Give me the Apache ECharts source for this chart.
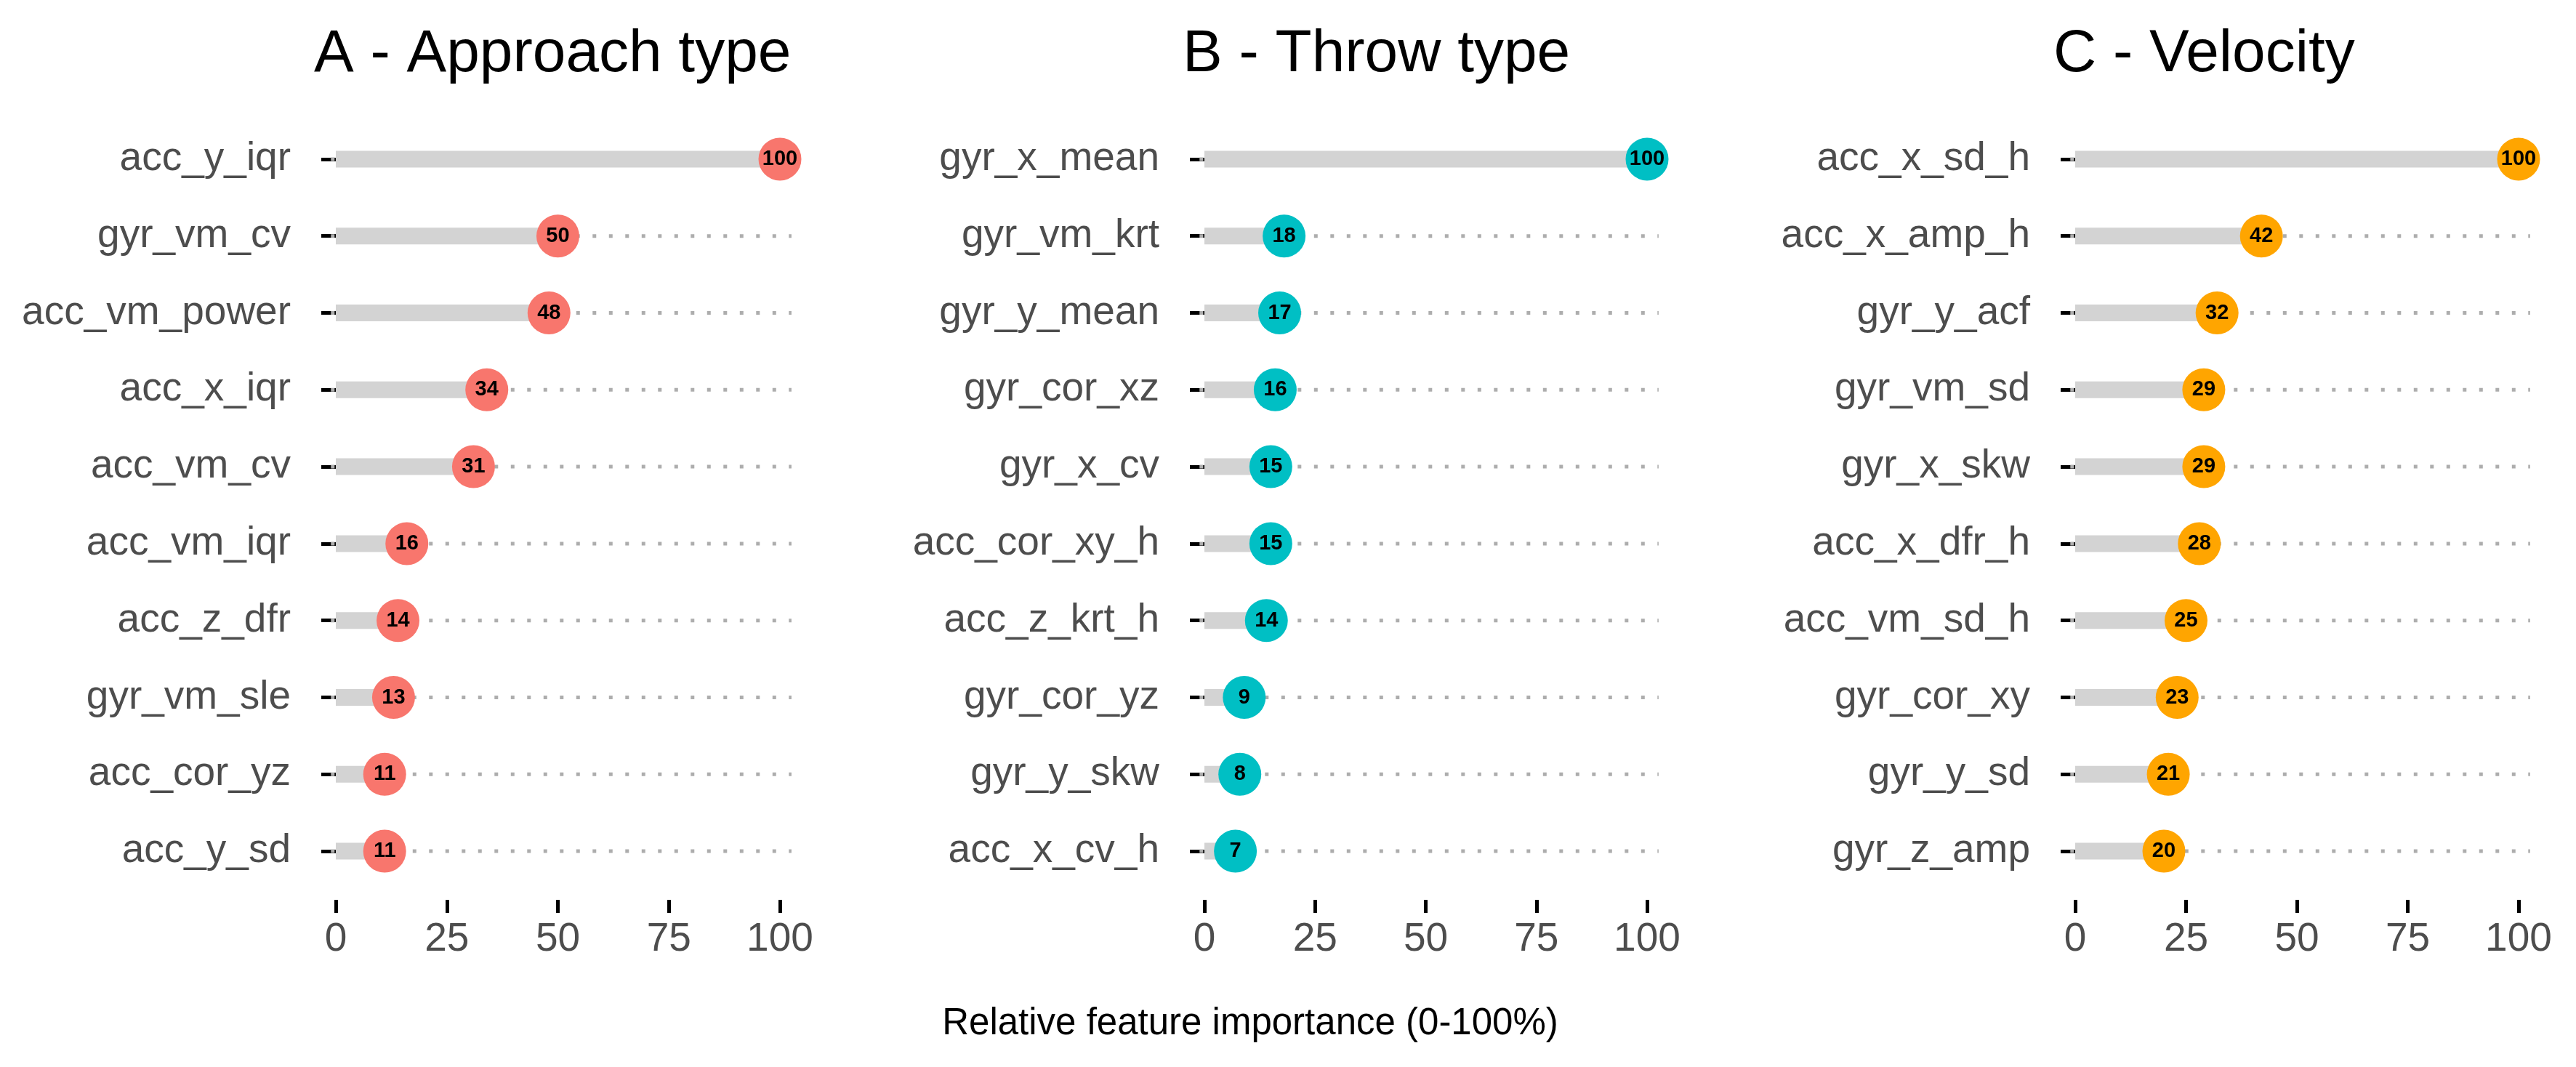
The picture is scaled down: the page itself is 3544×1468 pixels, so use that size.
<!DOCTYPE html>
<html>
<head>
<meta charset="utf-8">
<script src="https://cdn.jsdelivr.net/npm/echarts@6/dist/echarts.min.js"></script>
<style>
  html, body { margin: 0; padding: 0; background: #fff; }
  #chart { width: 3544px; height: 1468px; }
</style>
</head>
<body>
<div id="chart"></div>
<script>
// panel A - approach type
const approachFeatures = ['acc_y_iqr', 'gyr_vm_cv', 'acc_vm_power', 'acc_x_iqr', 'acc_vm_cv',
  'acc_vm_iqr', 'acc_z_dfr', 'gyr_vm_sle', 'acc_cor_yz', 'acc_y_sd']
const approachValues = [100, 50, 48, 34, 31, 16, 14, 13, 11, 11]

// panel B - throw type
const throwFeatures = ['gyr_x_mean', 'gyr_vm_krt', 'gyr_y_mean', 'gyr_cor_xz', 'gyr_x_cv',
  'acc_cor_xy_h', 'acc_z_krt_h', 'gyr_cor_yz', 'gyr_y_skw', 'acc_x_cv_h']
const throwValues = [100, 18, 17, 16, 15, 15, 14, 9, 8, 7]

// panel C - velocity
const velocityFeatures = ['acc_x_sd_h', 'acc_x_amp_h', 'gyr_y_acf', 'gyr_vm_sd', 'gyr_x_skw',
  'acc_x_dfr_h', 'acc_vm_sd_h', 'gyr_cor_xy', 'gyr_y_sd', 'gyr_z_amp']
const velocityValues = [100, 42, 32, 29, 29, 28, 25, 23, 21, 20]

const xTicks = [0, 25, 50, 75, 100]
const panelTitles = ['A - Approach type', 'B - Throw type', 'C - Velocity']
const xName = 'Relative feature importance (0-100%)'

const panels = [
  { title: panelTitles[0], cats: approachFeatures, vals: approachValues, color: '#F8766D', x0: 462, w: 611 },
  { title: panelTitles[1], cats: throwFeatures, vals: throwValues, color: '#00BFC4', x0: 1657, w: 609 },
  { title: panelTitles[2], cats: velocityFeatures, vals: velocityValues, color: '#FFA500', x0: 2855, w: 610 }
]

const FONT = 'Liberation Sans, Arial, sans-serif'
const DOT_FROM = -1.1
const DOT_TO = 102.6

let chart = echarts.init(document.getElementById('chart'), null, { renderer: 'canvas' })

let grids = [], xAxes = [], yAxes = [], series = [], graphics = []

panels.forEach((p, k) => {
  grids.push({ left: p.x0, width: p.w, top: 166, height: 1058, containLabel: false })
  xAxes.push({
    gridIndex: k, type: 'value', min: xTicks[0], max: xTicks[xTicks.length - 1], interval: 25,
    offset: 14,
    axisLine: { show: false },
    axisTick: { show: true, length: 18, lineStyle: { color: '#000', width: 5 } },
    axisLabel: { margin: 27, fontSize: 55, color: '#4D4D4D', fontFamily: FONT },
    splitLine: { show: false }
  })
  yAxes.push({
    gridIndex: k, type: 'category', data: p.cats, inverse: true, boundaryGap: true,
    offset: 29,
    axisLine: { show: false },
    axisTick: { show: true, alignWithLabel: true, length: 20, lineStyle: { color: '#000', width: 5 } },
    axisLabel: { margin: 33, fontSize: 55, color: '#4D4D4D', fontFamily: FONT },
    splitLine: { show: false }
  })
  // dotted guide lines behind the lollipops
  series.push({
    type: 'custom', xAxisIndex: k, yAxisIndex: k, silent: true, z: 1, clip: false,
    data: p.cats.map(c => [DOT_FROM, DOT_TO, c]),
    encode: { x: [0, 1], y: 2 },
    renderItem: function (params, api) {
      let a = api.coord([api.value(0), api.value(2)])
      let b = api.coord([api.value(1), api.value(2)])
      return {
        type: 'line',
        shape: { x1: a[0], y1: a[1], x2: b[0], y2: b[1] },
        style: { stroke: '#ADADAD', lineWidth: 5, lineDash: [5, 17.5] }
      }
    }
  })
  series.push({
    type: 'bar', xAxisIndex: k, yAxisIndex: k, z: 2, silent: true,
    barWidth: 23,
    itemStyle: { color: '#D3D3D3' },
    data: p.vals
  })
  series.push({
    type: 'scatter', xAxisIndex: k, yAxisIndex: k, z: 3, silent: true, clip: false,
    symbol: 'circle', symbolSize: 59,
    itemStyle: { color: p.color, opacity: 1 },
    label: {
      show: true, position: 'inside', formatter: d => d.value[0],
      fontSize: 29, fontWeight: 'bold', color: '#000', fontFamily: FONT
    },
    data: p.vals.map((v, i) => [v, p.cats[i]])
  })
  graphics.push({
    type: 'text', left: p.x0 - 30, top: 34.6,
    style: { text: p.title, fontSize: 82, fontFamily: FONT, fill: '#000', lineHeight: 82 }
  })
})

graphics.push({
  type: 'text', x: 1720, y: 1409,
  style: { text: xName, fontSize: 51, fontFamily: FONT, fill: '#000', align: 'center', verticalAlign: 'middle' }
})

chart.setOption({
  backgroundColor: '#fff',
  animation: false,
  grid: grids,
  xAxis: xAxes,
  yAxis: yAxes,
  series: series,
  graphic: graphics
})
</script>
</body>
</html>
